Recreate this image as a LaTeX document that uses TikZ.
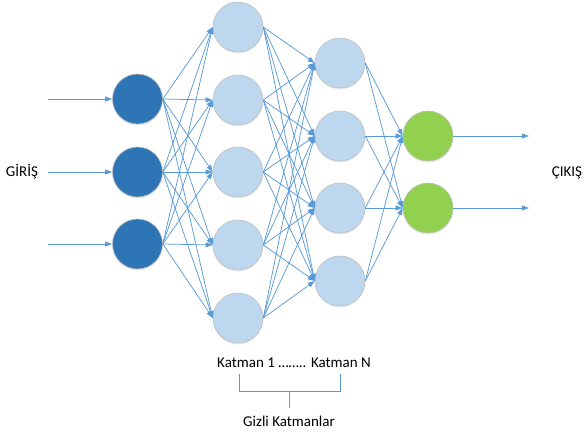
\documentclass[tikz,border=0pt]{standalone}
\usepackage{fontspec}
\setmainfont{Carlito}
\usetikzlibrary{arrows.meta,shadows}
\definecolor{inblue}{HTML}{2E75B6}
\definecolor{hidblue}{HTML}{BDD7EE}
\definecolor{outgreen}{HTML}{92D050}
\definecolor{linkblue}{HTML}{5B9BD5}
\definecolor{rimgray}{HTML}{BFBFBF}
\begin{document}
\begin{tikzpicture}[x=1pt,y=-1pt,
  neuron/.style={circle,minimum size=50pt,inner sep=0pt,draw=rimgray,line width=0.6pt,
    drop shadow={opacity=0.18,shadow xshift=0pt,shadow yshift=-1.5pt}},
  inneuron/.style={neuron,fill=inblue},
  hidneuron/.style={neuron,fill=hidblue},
  outneuron/.style={neuron,fill=outgreen},
  link/.style={draw=linkblue,line width=0.75pt,-{Triangle[length=7pt,width=5pt]}},
  label/.style={font=\fontsize{15}{18}\selectfont,text=black,inner sep=0pt},
  bracket/.style={draw=linkblue,line width=0.6pt}]
\useasboundingbox (0,0) rectangle (584,432);

% input layer
\foreach \i/\y in {1/99,2/172,3/244}
  \node[inneuron] (i\i) at (137.5,\y) {};
% first hidden layer
\foreach \i/\y in {1/27,2/100,3/172,4/245,5/318}
  \node[hidneuron] (h\i) at (238,\y) {};
% last hidden layer
\foreach \i/\y in {1/63,2/136,3/208,4/281}
  \node[hidneuron] (g\i) at (340,\y) {};
% output layer
\foreach \i/\y in {1/136,2/208}
  \node[outneuron] (o\i) at (428,\y) {};

% free ends of the input and output arrows
\foreach \i/\y in {1/99,2/172,3/244}
  \coordinate (s\i) at (48,\y);
\foreach \i/\y in {1/136,2/208}
  \coordinate (t\i) at (529,\y);

% connections
\foreach \i in {1,2,3} \draw[link] (s\i) -- (i\i.west);
\foreach \i in {1,2,3} \foreach \j in {1,...,5}
  \draw[link] (i\i.east) -- (h\j.west);
\foreach \i in {1,...,5} \foreach \j in {1,...,4}
  \draw[link] (h\i.east) -- (g\j.west);
\foreach \i in {1,...,4} \foreach \j in {1,2}
  \draw[link] (g\i.east) -- (o\j.west);
\foreach \i in {1,2} \draw[link] (o\i.east) -- (t\i);

% side labels
\node[label] (inlbl) at (22,172) {GİRİŞ};
\node[label] (outlbl) at (567,173) {ÇIKIŞ};

% hidden layer annotation
\node[label] (layers) at (294,363) {Katman 1 …….. Katman N};
\coordinate (bl) at (239,374);
\coordinate (br) at (340,374);
\coordinate (bm) at (289,408);
\draw[bracket] (bl) -- (239,391) -- (br |- 0,391) -- (br);
\draw[bracket] (289,391) -- (bm);
\node[label] (hidlbl) at (289,421) {Gizli Katmanlar};
\end{tikzpicture}
\end{document}
